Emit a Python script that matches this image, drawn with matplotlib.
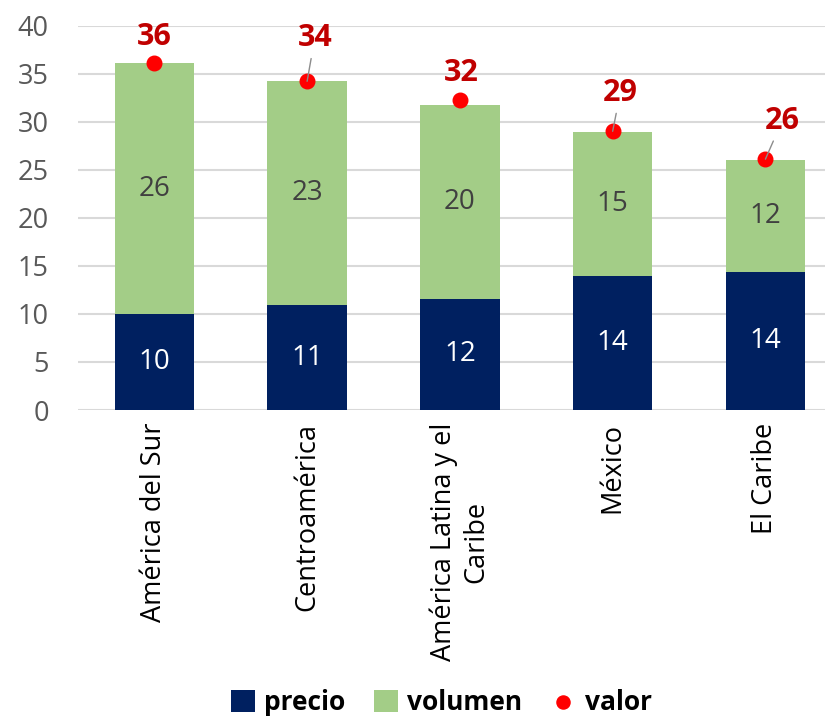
import matplotlib.pyplot as plt
import numpy as np

# datos
regiones = ['América del Sur', 'Centroamérica', 'América Latina y el\nCaribe', 'México', 'El Caribe']
precio = [9.95, 10.9, 11.55, 13.9, 14.35]
volumen = [26.15, 23.3, 20.15, 15.0, 11.65]
valor = [36.1, 34.2, 32.3, 29.0, 26.1]

azul = '#002060'
verde = '#A3CD87'
rojo = '#FF0000'

plt.rcParams['font.family'] = ['Open Sans', 'DejaVu Sans']

fig = plt.figure(figsize=(8.25, 7.24), dpi=100)
ax = fig.add_axes([0.0945, 0.4337, 0.9055, 0.531])

x = np.arange(len(regiones))
w = 0.52
b1 = ax.bar(x, precio, w, color=azul, label='precio', zorder=2)
b2 = ax.bar(x, volumen, w, bottom=precio, color=verde, label='volumen', zorder=2)
pt = ax.scatter(x, valor, s=110, color=rojo, label='valor', zorder=4)

# etiquetas dentro de las barras
for i in range(len(x)):
    ax.text(x[i], precio[i] / 2, f'{precio[i]:.0f}', ha='center', va='center',
            color='white', fontsize=20, zorder=5)
    ax.text(x[i], precio[i] + volumen[i] / 2, f'{volumen[i]:.0f}', ha='center', va='center',
            color='#404040', fontsize=20, zorder=5)

# etiquetas de valor (desplazamiento del texto respecto al punto)
dx = [0.0, 0.05, 0.01, 0.05, 0.11]
dy = [2.7, 4.5, 2.8, 4.0, 4.0]
linea = [False, True, False, True, True]
for i in range(len(x)):
    props = dict(arrowstyle='-', color='#8C8C8C', lw=1, shrinkA=2, shrinkB=0) if linea[i] else None
    ax.annotate(f'{valor[i]:.0f}', xy=(x[i], valor[i]), xytext=(x[i] + dx[i], valor[i] + dy[i]),
                ha='center', va='center', color='#C00000', fontsize=22, fontweight='bold',
                arrowprops=props, zorder=6)

ax.set_ylim(0, 40)
ax.set_yticks(range(0, 41, 5))
ax.set_xlim(-0.5, 4.39)
ax.set_xticks(x)
ax.set_xticklabels(regiones, rotation=90, fontsize=19.5, color='black', va='top', ha='center',
                   multialignment='center')
ax.tick_params(axis='y', labelsize=19.5, labelcolor='#595959', length=0, pad=21)
ax.tick_params(axis='x', length=0, pad=9)
ax.grid(axis='y', color='#D9D9D9', lw=1.5, zorder=0)
for s in ax.spines.values():
    s.set_visible(False)

fig.legend([b1, b2, pt], ['precio', 'volumen', 'valor'], loc='lower center',
           bbox_to_anchor=(0.535, -0.022), ncol=3, frameon=False,
           prop={'size': 19, 'weight': 'bold'}, handlelength=0.9, handleheight=0.9,
           handletextpad=0.35, columnspacing=1.1, markerscale=0.9)

fig.savefig('out.png', dpi=100)
